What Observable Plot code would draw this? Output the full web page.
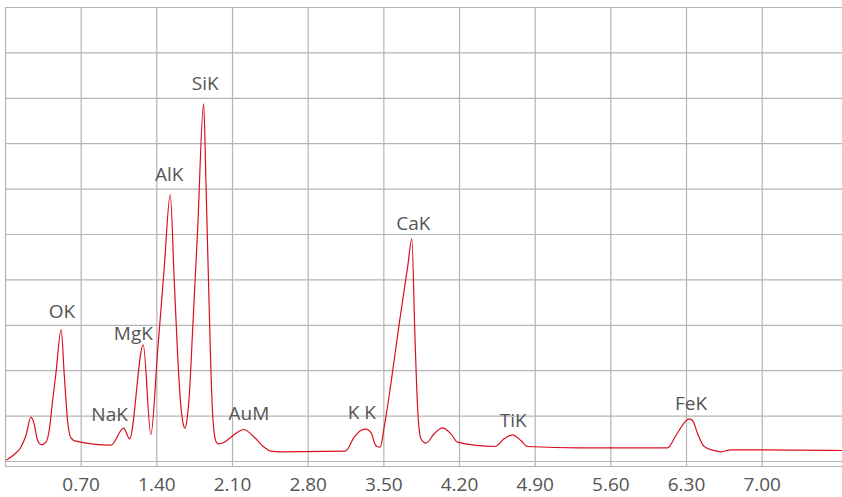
<!DOCTYPE html>
<html>
<head>
<meta charset="utf-8">
<script src="https://cdn.jsdelivr.net/npm/d3@7"></script>
<script src="https://cdn.jsdelivr.net/npm/@observablehq/plot@0.6"></script>
<style>
  html, body { margin: 0; padding: 0; background: #fff; }
  #chart { width: 842px; height: 497px; }
  svg { display: block; }
</style>
</head>
<body>
<div id="chart"></div>
<script>
// Spectrum: energy (keV) and counts (arbitrary units)
const energy = [
  0.013, 0.080, 0.142, 0.189, 0.235, 0.265, 0.297, 0.334, 0.374, 0.404, 0.436, 0.466, 0.515,
  0.543, 0.574, 0.605, 0.651, 0.975, 1.093, 1.148, 1.274, 1.345, 1.407, 1.468, 1.524,
  1.561, 1.592, 1.623, 1.644, 1.660, 1.678, 1.699, 1.731, 1.777, 1.833,
  1.854, 1.894, 1.916, 1.946, 1.968, 2.024, 2.085, 2.147, 2.203, 2.301, 2.393, 2.455, 2.548,
  3.143, 3.226, 3.287, 3.334, 3.387, 3.411, 3.436, 3.466, 3.503, 3.565, 3.642, 3.720, 3.759,
  3.787, 3.812, 3.843, 3.889, 3.966, 4.043, 4.120, 4.182, 4.527, 4.613, 4.691, 4.768, 4.830,
  5.323, 6.125, 6.202, 6.325, 6.356, 6.403, 6.463, 6.556, 6.617, 6.710, 6.988, 7.747
];
const counts = [
  0.37, 1.54, 3.15, 5.73, 9.76, 8.30, 4.63, 3.68, 4.25, 6.83, 13.44, 19.32, 29.07,
  19.32, 9.03, 5.22, 4.47, 3.59, 7.33, 5.00, 25.70, 5.95, 24.2, 42.5, 58.81,
  39.87, 23.7, 11.96, 8.30, 7.33, 9.03, 14.16, 28.85, 50.9, 78.8,
  61.9, 25.2, 10.5, 4.47, 3.90, 4.25, 5.35, 6.45, 7.05, 5.35, 3.15, 2.27, 2.14,
  2.27, 5.35, 6.83, 7.11, 6.10, 4.25, 3.30, 3.15, 7.55, 17.11, 30.33, 42.8, 49.05,
  28.13, 11.96, 5.00, 4.03, 6.10, 7.42, 6.10, 4.25, 3.30, 5.00, 5.88, 4.63, 3.30,
  3.02, 3.02, 5.73, 9.41, 9.03, 6.10, 3.30, 2.42, 2.14, 2.58, 2.58, 2.42
];

// Peak labels
const labelNames  = ["OK", "NaK", "MgK", "AlK", "SiK", "AuM", "K K", "CaK", "TiK", "FeK"];
const labelEnergy = [0.522, 0.963, 1.183, 1.514, 1.847, 2.252, 3.297, 3.773, 4.697, 6.341];
const labelCounts = [31.65, 8.88, 26.8, 61.7, 81.9, 9.18, 9.4, 50.9, 7.55, 11.39];

// Axis ticks
const gridXValues = [0, 0.7, 1.4, 2.1, 2.8, 3.5, 4.2, 4.9, 5.6, 6.3, 7.0];
const tickXValues = [0.7, 1.4, 2.1, 2.8, 3.5, 4.2, 4.9, 5.6, 6.3, 7.0];
const gridYValues = [0, 10, 20, 30, 40, 50, 60, 70, 80, 90, 100];

const spectrum = energy.map((e, i) => ({e, c: counts[i]}));
const labels = labelNames.map((n, i) => ({n, e: labelEnergy[i], c: labelCounts[i]}));

const plot = Plot.plot({
  width: 842,
  height: 497,
  marginLeft: 5,
  marginRight: 0,
  marginTop: 7,
  marginBottom: 31,
  style: {fontFamily: "'Open Sans', sans-serif", background: "#fff", color: "#555"},
  x: {domain: [0, 7.743], range: [5, 842]},
  y: {domain: [0, 100], range: [461, 7]},
  marks: [
    Plot.gridX(gridXValues, {stroke: "#b4b4b4", strokeOpacity: 1, strokeWidth: 1.2}),
    Plot.gridY(gridYValues, {stroke: "#b4b4b4", strokeOpacity: 1, strokeWidth: 1.2}),
    Plot.frame({anchor: "bottom", stroke: "#b4b4b4", strokeWidth: 1.2}),
    Plot.axisX(tickXValues, {
      tickSize: 0, tickPadding: 11, fontSize: 19, fill: "#555",
      tickFormat: d => d.toFixed(2), label: null
    }),
    Plot.axisY({ticks: [], label: null, tickSize: 0}),
    Plot.line(spectrum, {x: "e", y: "c", stroke: "#d90f1e", strokeWidth: 1.2, curve: "monotone-x"}),
    Plot.text(labels, {
      x: "e", y: "c", text: "n", textAnchor: "middle", lineAnchor: "bottom",
      fontSize: 19, fill: "#555"
    })
  ]
});
document.getElementById("chart").appendChild(plot);
</script>
</body>
</html>
